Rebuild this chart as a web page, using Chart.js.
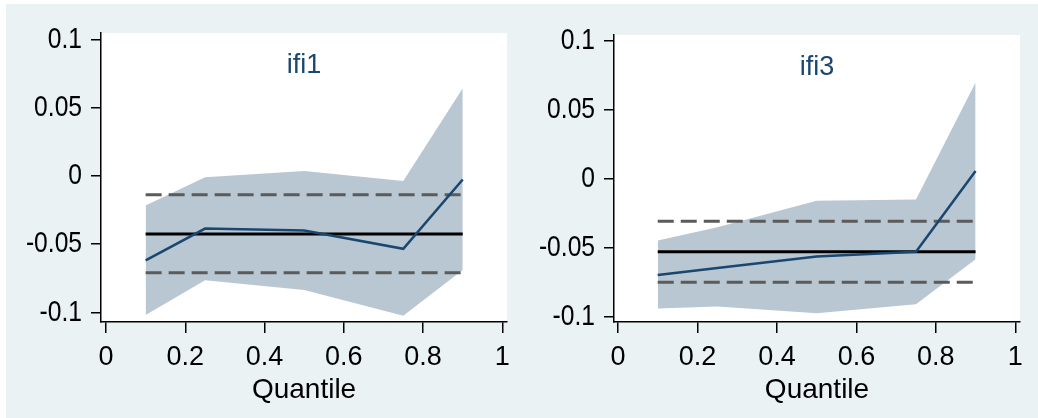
<!DOCTYPE html>
<html>
<head>
<meta charset="utf-8">
<script src="https://cdn.jsdelivr.net/npm/chart.js@4.4.1/dist/chart.umd.min.js"></script>
<style>
  html, body { margin: 0; padding: 0; background: #fff; }
  #wrap { position: relative; width: 1038px; height: 418px; overflow: hidden; }
  #bg { position: absolute; left: 6px; top: 4px; width: 1032px; height: 414px; background: #eaf2f3; }
  canvas { position: absolute; top: 0; }
  #c1 { left: 0; }
  #c2 { left: 518px; }
</style>
</head>
<body>
<div id="wrap">
  <div id="bg"></div>
  <canvas id="c1" width="518" height="418"></canvas>
  <canvas id="c2" width="520" height="418"></canvas>
</div>
<script>
// Quantile regression estimates with confidence band, OLS estimate and its interval
const quantiles = [0.1, 0.25, 0.5, 0.75, 0.9];

const ifi1Coef  = [-0.062, -0.0387, -0.040, -0.0535, -0.0027];
const ifi1Upper = [-0.0217, -0.001, 0.0035, -0.0038, 0.0641];
const ifi1Lower = [-0.102, -0.0766, -0.0836, -0.1025, -0.069];
const ifi1Ols   = [-0.0711, -0.0426, -0.0138]; // lower, estimate, upper

const ifi3Coef  = [-0.0698, -0.0646, -0.0563, -0.0529, 0.0055];
const ifi3Upper = [-0.0448, -0.0352, -0.0159, -0.0151, 0.0697];
const ifi3Lower = [-0.0941, -0.0926, -0.0974, -0.0909, -0.0584];
const ifi3Ols   = [-0.075, -0.0529, -0.0308];

const yTicks = [-0.1, -0.05, 0, 0.05, 0.1];
const yTickLabels = ['-0.1', '-0.05', '0', '0.05', '0.1'];
const xTicks = [0, 0.2, 0.4, 0.6, 0.8, 1];
const xTickLabels = ['0', '0.2', '0.4', '0.6', '0.8', '1'];

const FONT = '"Liberation Sans", Arial, sans-serif';
const NAVY = '#1a476f';
const BAND = '#b9c7d3';
const DASH = '#5b5b5b';

Chart.defaults.font.family = FONT;

// white plot region, panel title, and the (slightly condensed) y tick labels
const plotBg = {
  id: 'plotBg',
  beforeDraw(chart) {
    const { ctx, chartArea: a } = chart;
    ctx.save();
    ctx.fillStyle = '#fff';
    ctx.fillRect(a.left, a.top, a.right - a.left, a.bottom - a.top);
    ctx.restore();
  },
  afterDraw(chart, args, opts) {
    const { ctx, chartArea: a } = chart;
    ctx.save();
    ctx.fillStyle = NAVY;
    ctx.font = '27px ' + FONT;
    ctx.textAlign = 'center';
    ctx.textBaseline = 'alphabetic';
    ctx.fillText(opts.text, (a.left + a.right) / 2, a.top + 40);

    const ys = chart.scales.y;
    ctx.fillStyle = '#000';
    ctx.font = '30px ' + FONT;
    ctx.textAlign = 'right';
    ctx.textBaseline = 'middle';
    const xr = a.left - 10 - 9;
    yTicks.forEach((v, i) => {
      ctx.save();
      ctx.translate(xr, ys.getPixelForValue(v));
      ctx.scale(0.82, 1);
      ctx.fillText(yTickLabels[i], 0, 0);
      ctx.restore();
    });
    ctx.restore();
  }
};

function pts(arr) {
  return quantiles.map((q, i) => ({ x: q, y: arr[i] }));
}
function flat(v) {
  return [{ x: quantiles[0], y: v }, { x: quantiles[quantiles.length - 1], y: v }];
}

function makeChart(id, name, coef, upper, lower, ols, opt) {
  return new Chart(document.getElementById(id), {
    type: 'line',
    data: {
      datasets: [
        { data: pts(coef), borderColor: NAVY, borderWidth: 2.5, pointRadius: 0, fill: false, order: 0 },
        { data: flat(ols[1]), borderColor: '#000', borderWidth: 3, pointRadius: 0, fill: false, order: 1 },
        { data: flat(ols[2]), borderColor: DASH, borderWidth: 3, borderDash: [16, 7], pointRadius: 0, fill: false, order: 2 },
        { data: flat(ols[0]), borderColor: DASH, borderWidth: 3, borderDash: [16, 7], pointRadius: 0, fill: false, order: 2 },
        { data: pts(upper), borderColor: 'transparent', borderWidth: 0, pointRadius: 0, fill: false, order: 3 },
        { data: pts(lower), borderColor: 'transparent', borderWidth: 0, pointRadius: 0, fill: '-1', backgroundColor: BAND, order: 3 }
      ]
    },
    options: {
      responsive: false,
      animation: false,
      layout: { padding: { left: 0, top: opt.top, right: opt.right, bottom: 0 } },
      plugins: {
        legend: { display: false },
        tooltip: { enabled: false },
        plotBg: { text: name }
      },
      scales: {
        x: {
          type: 'linear',
          min: opt.xMin, max: opt.xMax,
          afterBuildTicks: s => { s.ticks = xTicks.map(v => ({ value: v })); },
          afterFit: s => { s.height = 96; },
          ticks: {
            callback: (v, i) => xTickLabels[i],
            font: { size: 27 }, color: '#000', padding: 8,
            maxRotation: 0, autoSkip: false
          },
          grid: { display: true, drawOnChartArea: false, drawTicks: true, tickLength: 11, color: '#000', lineWidth: 1.5 },
          border: { display: true, color: '#000', width: 1.5 },
          title: { display: true, text: 'Quantile', font: { size: 28 }, color: '#000', padding: { top: 0, bottom: 11 } }
        },
        y: {
          min: opt.yMin, max: opt.yMax,
          afterBuildTicks: s => { s.ticks = yTicks.map(v => ({ value: v })); },
          afterFit: s => { s.width = opt.left; },
          ticks: { display: false },
          grid: { display: true, drawOnChartArea: false, drawTicks: true, tickLength: 10, color: '#000', lineWidth: 1.5 },
          border: { display: true, color: '#000', width: 1.5 }
        }
      }
    },
    plugins: [plotBg]
  });
}

makeChart('c1', 'ifi1', ifi1Coef, ifi1Upper, ifi1Lower, ifi1Ols,
  { left: 101, top: 33, right: 10, xMin: -0.0126, xMax: 1.0118, yMin: -0.1071, yMax: 0.1046 });
makeChart('c2', 'ifi3', ifi3Coef, ifi3Upper, ifi3Lower, ifi3Ols,
  { left: 96, top: 35, right: 18, xMin: -0.0101, xMax: 1.0118, yMin: -0.1038, yMax: 0.1041 });
</script>
</body>
</html>
